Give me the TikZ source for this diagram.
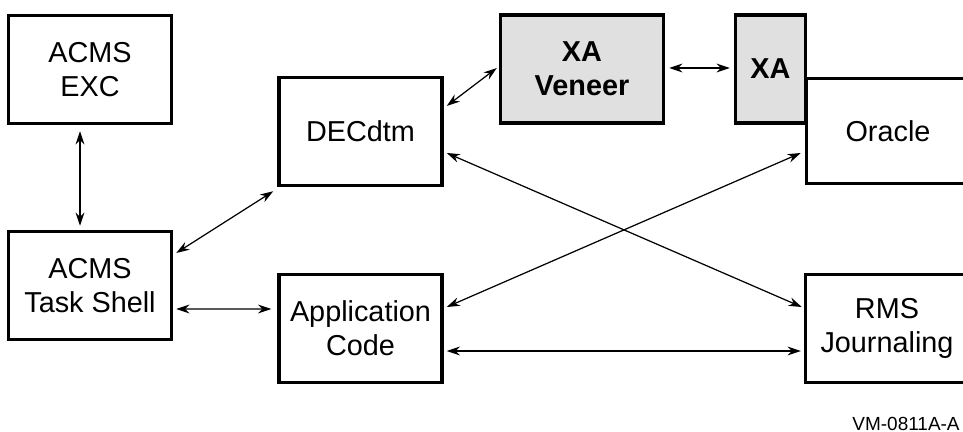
\documentclass[tikz,border=0pt]{standalone}
\usepackage{fontspec}
\setmainfont{Liberation Sans}
\usetikzlibrary{positioning, calc, arrows.meta}
\definecolor{xaGray}{RGB}{224,224,224}
\tikzstyle{diagram} = [x = 0.02cm, y = -0.02cm]
\tikzstyle{boxStyle} = [draw, line width = 2pt, minimum width = 3.26cm, minimum height = 2.16cm, align = center, inner sep = 0pt, font = \fontsize{16.4}{19.4}\selectfont]
\tikzstyle{xaStyle} = [boxStyle, fill = xaGray]
\tikzstyle{linkStyle} = [line width = 0.7pt, {Stealth[length = 7.5pt, width = 5pt]}-{Stealth[length = 7.5pt, width = 5pt]}]
\tikzstyle{figLabel} = [anchor = south east, inner sep = 0pt, font = \fontsize{10.8}{12}\selectfont]
\begin{document}
\begin{tikzpicture}[diagram]
  \useasboundingbox (0,0) rectangle (963,432);
  \clip (0,0) rectangle (963,432);
  \node [boxStyle] (acmsExc) at (90,69.5) {ACMS\\EXC};
  \node [boxStyle] (taskShell) at (90,285.5) {ACMS\\Task Shell};
  \node [boxStyle] (decDtm) at (360.5,131.5) {DECdtm};
  \node [boxStyle] (appCode) at (360.5,328.5) {Application\\Code};
  \node [xaStyle] (xaVeneer) at (582,69) {\textbf{XA}\\\textbf{Veneer}};
  \node [xaStyle, minimum width = 1.4cm] (xaPort) at (770.5,69) {\textbf{XA}};
  \node [boxStyle, minimum height = 2.1cm, text width = 3.2cm] (oracle) at (888,131) {Oracle};
  \node [boxStyle, text width = 3.2cm] (rmsJournal) at (887,328.5) {RMS\\Journaling};
  \node [figLabel] (figId) at (960,431) {VM-0811A-A};

  \draw [linkStyle] ($(acmsExc.south)+(-10,6)$) -- ($(taskShell.north)+(-10,-4)$);
  \draw [linkStyle] ($(taskShell.east)+(3,-32.5)$) -- ($(decDtm.south west)+(-4,4)$);
  \draw [linkStyle] ($(taskShell.east)+(3,23.5)$) -- ($(appCode.west)+(-6,-19.5)$);
  \draw [linkStyle] ($(decDtm.east)+(3,-25.5)$) -- ($(xaVeneer.west)+(-2,-1)$);
  \draw [linkStyle] ($(xaVeneer.east)+(4,-1)$) -- ($(xaPort.west)+(-4,-1)$);
  \draw [linkStyle] ($(decDtm.east)+(3,21.5)$) -- ($(rmsJournal.west)+(-2,-21.5)$);
  \draw [linkStyle] ($(appCode.east)+(3,-21.5)$) -- ($(oracle.west)+(-4,22)$);
  \draw [linkStyle] ($(appCode.east)+(3,22.5)$) -- ($(rmsJournal.west)+(-3,22.5)$);
\end{tikzpicture}
\end{document}
